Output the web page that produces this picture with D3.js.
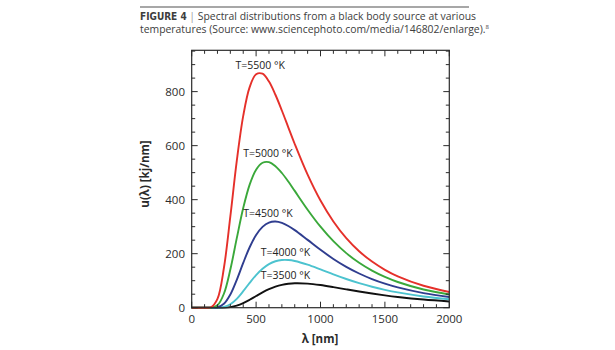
<!DOCTYPE html>
<html>
<head>
<meta charset="utf-8">
<script src="https://cdn.jsdelivr.net/npm/d3@7"></script>
<style>
  body { margin: 0; background: #fff; }
  svg { display: block; }
</style>
</head>
<body>
<svg id="chart" width="615" height="350"></svg>
<script>
// wavelength samples (nm)
var wavelengths = [0, 100, 150, 200, 250, 300, 350, 400, 450, 500, 550, 600, 650, 700, 750, 800,
                   900, 1000, 1100, 1200, 1300, 1400, 1500, 1600, 1800, 2000];

// u(lambda), kj/nm
var t5500 = [0, 0, 1.8, 32.8, 147, 337.8, 543.7, 710, 816.7, 864.3, 866.3, 837.2, 788.4, 730.1, 667.9, 606.1,
             492.4, 396.6, 319.2, 257.5, 209, 170.7, 140.3, 116.1, 81.2, 58.3];
var t5000 = [0, 0, 0.3, 8.9, 51.6, 141.3, 257.4, 369.2, 455.9, 511.1, 536.6, 538.8, 523.9, 498.7, 467.1, 432.4,
             362.9, 299.9, 246.2, 202, 166.2, 137.3, 114, 95.1, 67.4, 48.9];
var t4500 = [0, 0, 0, 1.8, 14.4, 48.7, 103.2, 165.9, 223.8, 269.2, 299.4, 315.3, 319, 313.9, 302.6, 287.3,
             251.1, 214.3, 180.6, 151.3, 126.6, 106, 89.1, 75.2, 54.2, 39.8];
var t4000 = [0, 0, 0, 0.2, 2.9, 12.8, 32.9, 61.1, 92, 121, 144.4, 161.5, 171.9, 176.5, 176.5, 173.1,
             159.4, 141.7, 123.3, 106.2, 90.8, 77.5, 66.2, 56.6, 41.7, 31.2];
var t3500 = [0, 0, 0, 0, 0.4, 2.3, 7.6, 16.9, 29.4, 43.3, 56.7, 68.5, 77.8, 84.5, 88.6, 90.6,
             89.3, 83.8, 76.2, 67.9, 59.9, 52.4, 45.7, 39.8, 30.2, 23.1];

var seriesNames = ["T=3500 °K", "T=4000 °K", "T=4500 °K", "T=5000 °K", "T=5500 °K"];
var seriesValues = [t3500, t4000, t4500, t5000, t5500];
var seriesColors = ["#111111", "#4cc3cf", "#2f3d8f", "#3aa83a", "#e5302a"];
// where each label sits (text centre lambda, baseline u)
var labelLambda = [728, 728, 592, 592, 532];
var labelU = [106, 191, 336, 558, 884];

var xTicks = [0, 500, 1000, 1500, 2000];
var yTicks = [0, 200, 400, 600, 800];

var svg = d3.select("#chart");
var pLeft = 191.7, pRight = 449.3, pTop = 50.3, pBottom = 307.7;

var x = d3.scaleLinear().domain([0, 2000]).range([pLeft, pRight]);
var y = d3.scaleLinear().domain([0, 953]).range([pBottom, pTop]);

var ink = "#2b2b2b";
var font = "'Open Sans', sans-serif";

// caption
svg.append("line")
    .attr("x1", 140).attr("x2", 469).attr("y1", 7).attr("y2", 7)
    .attr("stroke", "#8a8a8a").attr("stroke-width", 1.3);

var cap = svg.append("text")
    .attr("x", 140).attr("y", 20)
    .attr("font-family", font).attr("font-size", 10.4).attr("fill", "#3d3d3d");
cap.append("tspan").attr("font-family", "'DejaVu Sans Condensed', 'Liberation Sans Narrow', sans-serif")
    .attr("font-weight", "bold").attr("font-size", 10).text("FIGURE 4");
cap.append("tspan").attr("fill", "#999").text(" | ");
cap.append("tspan").text("Spectral distributions from a black body source at various");

var cap2 = svg.append("text")
    .attr("x", 140).attr("y", 33)
    .attr("font-family", font).attr("font-size", 10.4).attr("fill", "#3d3d3d")
    .text("temperatures (Source: www.sciencephoto.com/media/146802/enlarge).");
cap2.append("tspan").attr("font-size", 6).attr("dy", -4).text("8");

// curves
var line = d3.line()
    .x(function(d) { return x(d[0]); })
    .y(function(d) { return y(d[1]); })
    .curve(d3.curveCatmullRom.alpha(0.5));

seriesValues.forEach(function(vals, i) {
    var pts = wavelengths.map(function(w, j) { return [w, vals[j]]; });
    svg.append("path")
        .datum(pts)
        .attr("d", line)
        .attr("fill", "none")
        .attr("stroke", seriesColors[i])
        .attr("stroke-width", 1.9);
});

// frame with inward ticks on all sides
svg.append("rect")
    .attr("x", pLeft).attr("y", pTop)
    .attr("width", pRight - pLeft).attr("height", pBottom - pTop)
    .attr("fill", "none").attr("stroke", ink).attr("stroke-width", 1.2);

var xMinor = d3.range(0, 2001, 100);
var yMinor = d3.range(0, 951, 50);

function tickLen(v, step) { return v % step === 0 ? 6 : 3.5; }

var tg = svg.append("g").attr("stroke", ink).attr("stroke-width", 1);
xMinor.forEach(function(v) {
    var L = tickLen(v, 500);
    tg.append("line").attr("x1", x(v)).attr("x2", x(v)).attr("y1", pBottom).attr("y2", pBottom - L);
    tg.append("line").attr("x1", x(v)).attr("x2", x(v)).attr("y1", pTop).attr("y2", pTop + L);
});
yMinor.forEach(function(v) {
    var L = tickLen(v, 200);
    tg.append("line").attr("y1", y(v)).attr("y2", y(v)).attr("x1", pLeft).attr("x2", pLeft + L);
    tg.append("line").attr("y1", y(v)).attr("y2", y(v)).attr("x1", pRight).attr("x2", pRight - L);
});

// tick labels
svg.selectAll(".xl").data(xTicks).join("text")
    .attr("class", "xl")
    .attr("x", function(d) { return x(d); })
    .attr("y", 323)
    .attr("text-anchor", "middle")
    .attr("font-family", font).attr("font-size", 11.5).attr("fill", ink)
    .text(function(d) { return d; });

svg.selectAll(".yl").data(yTicks).join("text")
    .attr("class", "yl")
    .attr("x", 185)
    .attr("y", function(d) { return y(d) + 4; })
    .attr("text-anchor", "end")
    .attr("font-family", font).attr("font-size", 11.5).attr("fill", ink)
    .text(function(d) { return d; });

// axis titles
svg.append("text")
    .attr("x", 320).attr("y", 343)
    .attr("text-anchor", "middle")
    .attr("font-family", font).attr("font-size", 11.5).attr("font-weight", "bold").attr("fill", ink)
    .text("λ [nm]");

svg.append("text")
    .attr("transform", "translate(149,174) rotate(-90)")
    .attr("text-anchor", "middle")
    .attr("font-family", font).attr("font-size", 11.5).attr("font-weight", "bold").attr("fill", ink)
    .text("u(λ) [kj/nm]");

// curve labels
seriesNames.forEach(function(name, i) {
    svg.append("text")
        .attr("x", x(labelLambda[i]))
        .attr("y", y(labelU[i]))
        .attr("text-anchor", "middle")
        .attr("font-family", font).attr("font-size", 10.5).attr("fill", "#222")
        .text(name);
});
</script>
</body>
</html>
